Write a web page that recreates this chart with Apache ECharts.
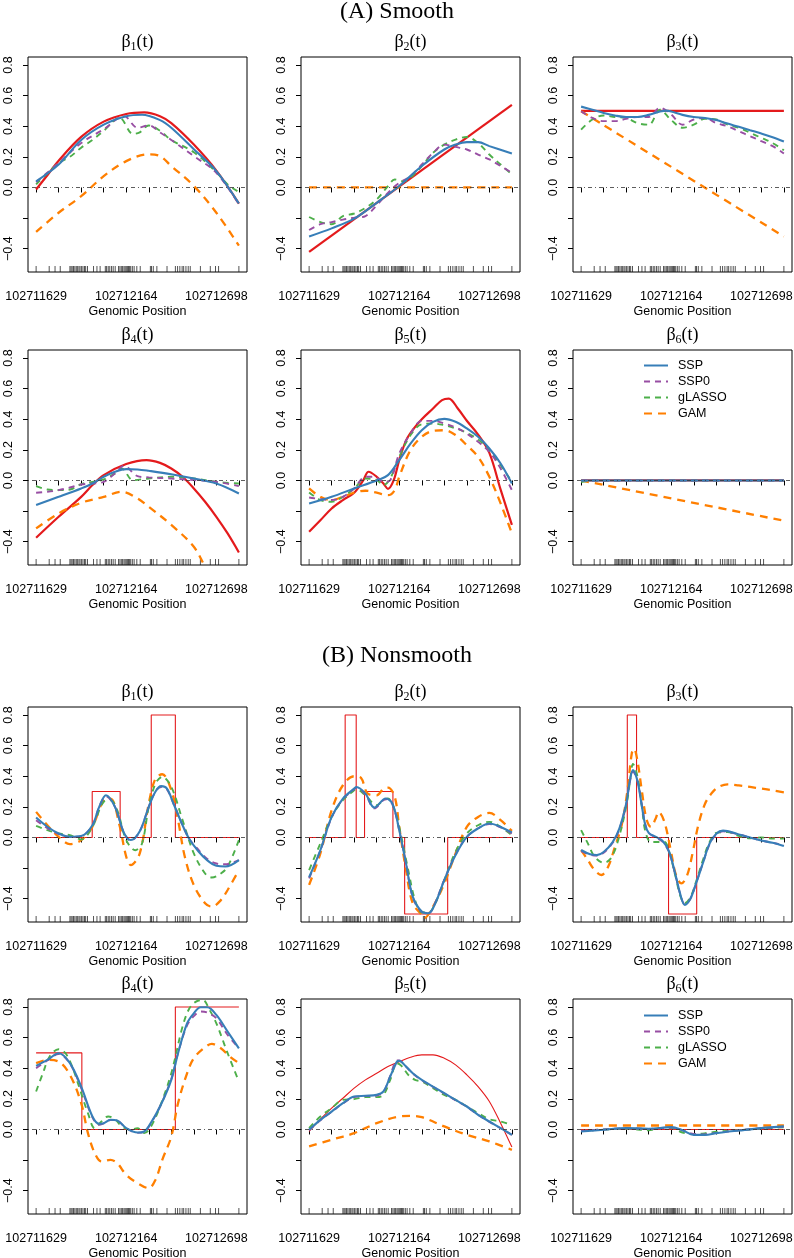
<!DOCTYPE html>
<html>
<head>
<meta charset="utf-8">
<script src="https://cdn.jsdelivr.net/npm/echarts@6/dist/echarts.min.js"></script>
<style>
  html, body { margin: 0; padding: 0; background: #fff; }
  #chart { width: 794px; height: 1258px; }
</style>
</head>
<body>
<div id="chart"></div>
<script>
// genomic positions of the first and last axis tick, 10 ticks evenly spaced
const POS_FIRST = 102711629;
const POS_LAST = 102712832;
const N_TICKS = 10;
const X_LABEL_TICKS = [0, 4, 8];
const Y_TICKS = [-0.4, -0.2, 0, 0.2, 0.4, 0.6, 0.8];
const Y_LABELS = [-0.4, 0, 0.2, 0.4, 0.6, 0.8];
const Y_LIM = [-0.5, 0.8];
const METHODS = ["SSP", "SSP0", "gLASSO", "GAM"];

// CpG sites (rug), in tick units
const rugSites = [0, 0.58, 0.84, 1.07, 1.5, 1.55, 1.6, 1.66, 1.72, 1.78, 1.83, 1.9, 1.95, 2.02, 2.08,
  2.15, 2.2, 2.28, 2.55, 2.7, 2.84, 3.07, 3.13, 3.2, 3.27, 3.35, 3.42, 3.51, 3.66, 3.72, 3.78, 3.84,
  3.9, 3.95, 4.0, 4.05, 4.1, 4.15, 4.2, 4.27, 4.35, 4.47, 4.62, 5.07, 5.12, 5.2, 5.36, 5.81, 6.18,
  6.28, 6.38, 6.48, 6.55, 6.65, 6.75, 6.84, 7.29, 7.73, 7.96, 8.1, 9.0];

// ---- (A) Smooth : [tick unit, beta] ----
const A1_truth = [[0,-0.013],[0.5,0.08],[1,0.175],[2,0.33],[3,0.43],[4,0.48],[4.8,0.49],[5.5,0.465],[6,0.42],[7,0.28],[8,0.11],[9,-0.105]];
const A1_SSP = [[0,0.04],[1,0.15],[2,0.31],[3,0.41],[4,0.465],[4.7,0.475],[5.5,0.44],[6,0.39],[7,0.25],[8,0.107],[9,-0.105]];
const A1_SSP0 = [[0,0.035],[1,0.16],[2,0.29],[3,0.38],[3.9,0.466],[4.5,0.39],[5,0.405],[5.5,0.36],[6,0.31],[7,0.205],[8,0.096],[9,-0.11]];
const A1_gLASSO = [[0,0.02],[1,0.16],[1.5,0.2],[2,0.26],[2.5,0.31],[3,0.37],[3.7,0.455],[4.3,0.35],[4.6,0.36],[5,0.405],[5.5,0.37],[6,0.31],[7,0.23],[8,0.1],[8.5,0.02],[9,-0.03]];
const A1_GAM = [[0,-0.29],[1,-0.165],[2,-0.057],[3,0.074],[4,0.172],[5,0.216],[5.5,0.205],[6,0.14],[7,0.01],[8,-0.165],[9,-0.38]];

const A2_truth = [[0,-0.42],[9,0.54]];
const A2_SSP = [[0,-0.32],[1,-0.267],[2,-0.204],[3,-0.1],[4,0.01],[5,0.14],[6,0.248],[6.5,0.28],[7,0.296],[7.5,0.296],[8,0.27],[9,0.222]];
const A2_SSP0 = [[0,-0.278],[0.5,-0.24],[1,-0.226],[1.5,-0.21],[2,-0.198],[2.5,-0.187],[3,-0.117],[3.5,-0.035],[4,0.03],[4.5,0.074],[5,0.15],[5.5,0.226],[6,0.28],[6.5,0.265],[7,0.248],[7.5,0.215],[8,0.183],[8.5,0.14],[9,0.096]];
const A2_gLASSO = [[0,-0.193],[0.5,-0.226],[1,-0.24],[1.5,-0.187],[2,-0.17],[2.5,-0.133],[3,-0.078],[3.5,0.009],[3.8,0.052],[4.2,0.04],[4.5,0.063],[5,0.14],[5.5,0.226],[6,0.28],[6.5,0.313],[7,0.33],[7.5,0.29],[8,0.215],[8.5,0.15],[9,0.085]];
const A2_GAM = [[0,0],[9,0]];

const A3_truth = [[0,0.5],[9,0.5]];
const A3_SSP = [[0,0.528],[0.5,0.508],[1,0.487],[1.5,0.47],[2,0.46],[2.5,0.46],[3,0.474],[3.5,0.496],[3.8,0.502],[4,0.496],[4.5,0.474],[5,0.46],[5.5,0.454],[6,0.44],[6.5,0.417],[7,0.396],[7.5,0.374],[8,0.352],[8.5,0.328],[9,0.3]];
const A3_SSP0 = [[0,0.498],[0.5,0.454],[1,0.433],[1.5,0.433],[2,0.448],[2.5,0.46],[3,0.46],[3.5,0.52],[4,0.476],[4.5,0.41],[5,0.444],[5.5,0.454],[6,0.42],[6.5,0.4],[7,0.367],[7.5,0.335],[8,0.302],[8.5,0.27],[9,0.222]];
const A3_gLASSO = [[0,0.378],[0.5,0.444],[1,0.47],[1.5,0.46],[2,0.454],[2.5,0.42],[3,0.41],[3.5,0.508],[4,0.44],[4.5,0.39],[5,0.41],[5.5,0.448],[6,0.444],[6.5,0.41],[7,0.39],[7.5,0.357],[8,0.324],[8.5,0.29],[9,0.243]];
const A3_GAM = [[0,0.498],[9,-0.32]];

const A4_truth = [[0,-0.374],[1,-0.237],[2,-0.107],[2.5,-0.03],[3,0.035],[4,0.107],[4.9,0.133],[5.5,0.115],[6,0.078],[6.5,0.024],[7,-0.052],[7.5,-0.139],[8,-0.237],[8.5,-0.346],[9,-0.47]];
const A4_SSP = [[0,-0.16],[1,-0.107],[2,-0.052],[2.5,-0.02],[3,0.024],[3.5,0.057],[4,0.074],[4.5,0.072],[5,0.063],[6,0.041],[7,0.013],[8,-0.02],[9,-0.085]];
const A4_SSP0 = [[0,-0.08],[0.5,-0.074],[1,-0.063],[1.5,-0.046],[2,-0.026],[2.5,-0.02],[3,-0.009],[3.5,0.046],[3.9,0.096],[4.5,0.028],[5,0.02],[6,0.013],[7,0.002],[8,-0.009],[9,-0.037]];
const A4_gLASSO = [[0,-0.037],[0.5,-0.059],[1,-0.063],[1.5,-0.059],[2,-0.024],[2.5,-0.009],[3,0.007],[3.5,0.046],[3.8,0.078],[4.3,0.002],[5,0.013],[6,0.024],[7,0.013],[8,-0.009],[9,-0.02]];
const A4_GAM = [[0,-0.313],[1,-0.215],[2,-0.146],[3,-0.107],[3.8,-0.074],[4.5,-0.117],[5,-0.172],[6,-0.29],[7,-0.433],[7.5,-0.563],[8,-0.69],[8.5,-0.83],[9,-0.98]];

const A5_truth = [[0,-0.335],[0.5,-0.26],[1,-0.183],[1.5,-0.128],[2,-0.08],[2.4,0],[2.64,0.057],[3,0.024],[3.3,-0.02],[3.5,-0.055],[3.75,0],[4,0.133],[4.3,0.26],[4.6,0.33],[5,0.4],[5.5,0.47],[5.9,0.525],[6.2,0.535],[6.6,0.47],[7,0.39],[7.5,0.3],[8,0.18],[8.5,-0.06],[9,-0.29]];
const A5_SSP = [[0,-0.15],[1,-0.107],[2,-0.052],[3,0],[3.5,0.035],[4,0.133],[4.5,0.24],[5,0.328],[5.5,0.383],[6,0.402],[6.5,0.383],[7,0.34],[7.5,0.285],[8,0.209],[8.5,0.111],[9,-0.02]];
const A5_SSP0 = [[0,-0.111],[0.5,-0.122],[1,-0.128],[1.5,-0.107],[2,-0.052],[2.5,0.024],[2.9,0.024],[3.3,-0.009],[3.6,0.002],[4,0.176],[4.5,0.306],[5,0.389],[5.5,0.389],[6,0.372],[6.5,0.346],[7,0.306],[7.5,0.252],[8,0.187],[8.5,0.078],[9,-0.063]];
const A5_gLASSO = [[0,-0.078],[0.5,-0.128],[1,-0.139],[1.5,-0.107],[2,-0.052],[2.5,0.013],[3,0.002],[3.3,-0.03],[3.6,0.013],[4,0.154],[4.5,0.296],[5,0.367],[5.5,0.372],[6,0.361],[6.5,0.34],[7,0.311],[7.5,0.267],[8,0.198],[8.5,0.1],[9,-0.009]];
const A5_GAM = [[0,-0.052],[0.5,-0.107],[1,-0.128],[1.5,-0.107],[2,-0.08],[2.5,-0.067],[3,-0.08],[3.5,-0.096],[3.8,-0.063],[4,0.024],[4.5,0.198],[5,0.285],[5.5,0.324],[6,0.328],[6.5,0.296],[7,0.23],[7.5,0.154],[8,0.024],[8.5,-0.15],[9,-0.346]];

const A6_truth = [[0,0],[9,0]];
const A6_SSP = [[0,0],[9,0]];
const A6_SSP0 = [[0,0],[9,0]];
const A6_gLASSO = [[0,-0.01],[0.5,0],[9,0]];
const A6_GAM = [[0,0],[9,-0.263]];

// ---- (B) Nonsmooth ----
const B1_truth = [[0,0],[2.49,0],[2.49,0.3],[3.73,0.3],[3.73,0],[5.11,0],[5.11,0.8],[6.18,0.8],[6.18,0],[9,0]];
const B1_SSP = [[0,0.13],[0.5,0.07],[1,0.026],[1.5,0.004],[2,0.009],[2.5,0.08],[2.8,0.2],[3.1,0.276],[3.5,0.2],[3.9,0.03],[4.2,-0.017],[4.6,0.04],[5,0.2],[5.3,0.3],[5.55,0.335],[5.8,0.32],[6.1,0.22],[6.5,0.08],[6.8,-0.01],[7.2,-0.09],[7.6,-0.15],[8,-0.185],[8.4,-0.19],[9,-0.148]];
const B1_SSP0 = [[0,0.113],[0.5,0.06],[1,0.022],[1.5,0.004],[2,0.009],[2.5,0.08],[2.8,0.2],[3.1,0.27],[3.5,0.2],[3.9,0.03],[4.2,-0.02],[4.6,0.04],[5,0.2],[5.3,0.3],[5.55,0.33],[5.8,0.315],[6.1,0.22],[6.5,0.08],[6.8,-0.01],[7.2,-0.08],[7.6,-0.14],[8,-0.17],[8.4,-0.175],[9,-0.148]];
const B1_gLASSO = [[0,0.076],[0.5,0.048],[1,0.026],[1.5,0.015],[2,-0.013],[2.5,0.07],[3,0.233],[3.3,0.243],[3.6,0.178],[4,-0.017],[4.4,-0.083],[4.7,-0.039],[5,0.2],[5.3,0.352],[5.6,0.396],[6,0.33],[6.5,0.113],[7,-0.104],[7.5,-0.235],[7.8,-0.261],[8.2,-0.235],[8.5,-0.191],[9,-0.017]];
const B1_GAM = [[0,0.167],[0.5,0.08],[1,0.004],[1.5,-0.043],[2,-0.017],[2.5,0.07],[3,0.243],[3.3,0.254],[3.7,0.08],[4,-0.126],[4.2,-0.18],[4.6,-0.104],[5,0.222],[5.3,0.385],[5.6,0.413],[6,0.309],[6.3,0.113],[6.6,-0.126],[7,-0.311],[7.5,-0.43],[7.8,-0.452],[8.2,-0.409],[8.5,-0.343],[9,-0.213]];

const B2_truth = [[0,0],[1.6,0],[1.6,0.8],[2.09,0.8],[2.09,0],[2.46,0],[2.46,0.3],[3.72,0.3],[3.72,0],[4.24,0],[4.24,-0.5],[6.15,-0.5],[6.15,0],[9,0]];
const B2_SSP = [[0,-0.26],[0.5,-0.082],[1,0.134],[1.5,0.254],[2,0.319],[2.1,0.33],[2.5,0.286],[2.9,0.195],[3.4,0.254],[3.7,0.221],[4,0.048],[4.3,-0.169],[4.6,-0.386],[5,-0.484],[5.3,-0.495],[5.6,-0.43],[6,-0.278],[6.5,-0.115],[7,0.004],[7.5,0.059],[8,0.091],[8.5,0.069],[9,0.033]];
const B2_SSP0 = [[0,-0.267],[0.5,-0.085],[1,0.13],[1.5,0.25],[2,0.315],[2.1,0.325],[2.5,0.28],[2.9,0.19],[3.4,0.25],[3.7,0.215],[4,0.045],[4.3,-0.17],[4.6,-0.39],[5,-0.487],[5.3,-0.495],[5.6,-0.425],[6,-0.275],[6.5,-0.112],[7,0.004],[7.5,0.06],[8,0.088],[8.5,0.066],[9,0.026]];
const B2_gLASSO = [[0,-0.213],[0.5,-0.039],[1,0.134],[1.5,0.243],[2,0.308],[2.1,0.315],[2.5,0.275],[3,0.21],[3.3,0.243],[3.5,0.254],[3.8,0.178],[4,0.069],[4.4,-0.213],[4.7,-0.408],[5,-0.49],[5.3,-0.49],[5.6,-0.43],[6,-0.278],[6.5,-0.093],[7,0.026],[7.5,0.08],[8,0.102],[8.5,0.069],[9,0.015]];
const B2_GAM = [[0,-0.31],[0.5,-0.104],[1,0.178],[1.5,0.341],[2,0.4],[2.3,0.39],[2.6,0.286],[3,0.275],[3.3,0.319],[3.5,0.325],[3.8,0.265],[4,0.069],[4.3,-0.213],[4.6,-0.43],[5,-0.505],[5.1,-0.527],[5.5,-0.451],[6,-0.3],[6.5,-0.104],[7,0.069],[7.5,0.134],[8,0.16],[8.5,0.113],[9,0.043]];

const B3_truth = [[0,0],[2.05,0],[2.05,0.8],[2.46,0.8],[2.46,0],[3.88,0],[3.88,-0.5],[5.13,-0.5],[5.13,0],[9,0]];
const B3_SSP = [[0,-0.082],[0.4,-0.11],[0.7,-0.115],[1,-0.095],[1.4,-0.03],[1.7,0.06],[2,0.22],[2.15,0.36],[2.3,0.44],[2.5,0.37],[2.7,0.2],[2.85,0.08],[3,0.03],[3.3,0.005],[3.6,-0.02],[3.9,-0.09],[4.2,-0.25],[4.4,-0.37],[4.6,-0.44],[4.85,-0.4],[5.1,-0.3],[5.4,-0.17],[5.7,-0.04],[6,0.025],[6.3,0.045],[7,0.02],[7.5,0],[8,-0.02],[8.5,-0.035],[9,-0.056]];
const B3_SSP0 = [[0,-0.09],[0.4,-0.112],[0.7,-0.118],[1,-0.1],[1.4,-0.035],[1.7,0.055],[2,0.215],[2.15,0.35],[2.3,0.43],[2.5,0.37],[2.7,0.21],[2.85,0.085],[3,0.03],[3.3,0.0],[3.6,-0.025],[3.9,-0.095],[4.2,-0.255],[4.4,-0.37],[4.6,-0.435],[4.85,-0.4],[5.1,-0.3],[5.4,-0.17],[5.7,-0.045],[6,0.02],[6.3,0.04],[7,0.02],[7.5,0],[8,-0.02],[8.5,-0.035],[9,-0.05]];
const B3_gLASSO = [[0,0.048],[0.3,-0.039],[0.6,-0.126],[1,-0.165],[1.3,-0.14],[1.6,-0.04],[2,0.2],[2.2,0.4],[2.3,0.48],[2.5,0.4],[2.7,0.2],[2.85,0.04],[3.1,-0.03],[3.4,-0.03],[3.7,-0.03],[3.9,-0.09],[4.2,-0.26],[4.4,-0.38],[4.6,-0.43],[4.85,-0.39],[5.1,-0.29],[5.4,-0.15],[5.7,-0.03],[6,0.03],[6.5,0.035],[7,0.01],[7.5,-0.005],[8,0],[8.5,-0.007],[9,-0.007]];
const B3_GAM = [[0,-0.082],[0.3,-0.148],[0.6,-0.213],[0.9,-0.245],[1.2,-0.191],[1.5,-0.061],[1.8,0.08],[2.05,0.3],[2.25,0.55],[2.35,0.58],[2.5,0.5],[2.7,0.3],[2.9,0.12],[3.1,0.069],[3.3,0.12],[3.44,0.167],[3.7,0.1],[4,-0.1],[4.2,-0.24],[4.45,-0.3],[4.7,-0.25],[4.95,-0.1],[5.2,0.08],[5.5,0.22],[5.8,0.29],[6.1,0.33],[6.5,0.347],[7,0.34],[7.5,0.33],[8,0.319],[8.5,0.308],[9,0.295]];

const B4_truth = [[0,0.5],[2.03,0.5],[2.03,0],[6.18,0],[6.18,0.8],[9,0.8]];
const B4_SSP = [[0,0.415],[0.5,0.454],[1,0.498],[1.5,0.433],[2,0.28],[2.5,0.085],[2.8,0.037],[3,0.041],[3.3,0.063],[3.6,0.059],[4,0.009],[4.5,-0.02],[4.8,-0.013],[5,0.02],[5.5,0.15],[6,0.324],[6.3,0.498],[6.7,0.693],[7,0.759],[7.3,0.798],[7.6,0.798],[8,0.748],[8.5,0.639],[9,0.53]];
const B4_SSP0 = [[0,0.4],[0.5,0.45],[1,0.493],[1.5,0.43],[2,0.27],[2.5,0.08],[2.8,0.03],[3,0.04],[3.3,0.062],[3.6,0.058],[4,0.008],[4.5,-0.022],[4.8,-0.015],[5,0.018],[5.5,0.15],[6,0.33],[6.3,0.5],[6.7,0.68],[7,0.74],[7.3,0.77],[7.6,0.763],[8,0.726],[8.5,0.617],[9,0.53]];
const B4_gLASSO = [[0,0.248],[0.3,0.367],[0.6,0.476],[1,0.524],[1.3,0.498],[1.6,0.411],[2,0.237],[2.3,0.107],[2.6,0.009],[2.9,0.052],[3.2,0.085],[3.5,0.067],[3.8,0.02],[4.2,-0.002],[4.5,0.009],[4.8,-0.024],[5.1,0.02],[5.5,0.15],[6,0.367],[6.5,0.672],[6.8,0.79],[7.1,0.835],[7.4,0.846],[7.7,0.78],[8,0.693],[8.5,0.498],[9,0.313]];
const B4_GAM = [[0,0.433],[0.5,0.454],[1,0.443],[1.5,0.357],[2,0.172],[2.3,-0.024],[2.6,-0.154],[2.9,-0.209],[3.3,-0.198],[3.6,-0.22],[4,-0.296],[4.5,-0.35],[5,-0.383],[5.3,-0.328],[5.6,-0.198],[6,-0.046],[6.3,0.172],[6.7,0.367],[7,0.465],[7.5,0.537],[7.8,0.559],[8.2,0.53],[8.6,0.476],[9,0.433]];

const B5_truth = [[0,-0.013],[0.5,0.067],[1,0.139],[1.5,0.204],[2,0.27],[2.5,0.324],[3,0.367],[3.5,0.411],[4,0.443],[4.5,0.472],[5,0.487],[5.5,0.487],[6,0.465],[6.5,0.422],[7,0.357],[7.5,0.28],[8,0.183],[8.5,0.041],[9,-0.115]];
const B5_SSP = [[0,-0.002],[0.5,0.063],[1,0.117],[1.5,0.172],[2,0.215],[2.5,0.22],[3,0.226],[3.3,0.248],[3.6,0.346],[3.9,0.443],[4,0.448],[4.3,0.411],[4.6,0.367],[5,0.324],[5.5,0.28],[6,0.237],[6.5,0.193],[7,0.15],[7.5,0.096],[8,0.052],[8.5,0.009],[9,-0.035]];
const B5_SSP0 = [[0,-0.005],[0.5,0.06],[1,0.115],[1.5,0.17],[2,0.212],[2.5,0.218],[3,0.222],[3.3,0.245],[3.6,0.35],[3.9,0.45],[4,0.45],[4.3,0.41],[4.6,0.365],[5,0.322],[5.5,0.278],[6,0.235],[6.5,0.19],[7,0.148],[7.5,0.095],[8,0.05],[8.5,0.008],[9,-0.035]];
const B5_gLASSO = [[0,0.009],[0.5,0.085],[1,0.139],[1.5,0.193],[2,0.198],[2.5,0.211],[3,0.211],[3.3,0.226],[3.6,0.324],[3.9,0.433],[4.1,0.415],[4.4,0.357],[4.7,0.324],[5,0.313],[5.5,0.27],[6,0.226],[6.5,0.193],[7,0.15],[7.5,0.107],[8,0.067],[8.5,0.052],[9,0.03]];
const B5_GAM = [[0,-0.111],[1,-0.067],[2,-0.024],[3,0.041],[4,0.085],[4.5,0.089],[5,0.08],[6,0.02],[7,-0.035],[8,-0.078],[9,-0.133]];

const B6_truth = [[0,0],[9,0]];
const B6_SSP = [[0,-0.013],[1,-0.002],[2,0.009],[3,0.005],[4,0.015],[4.5,-0.005],[5,-0.035],[5.5,-0.035],[6,-0.024],[7,-0.007],[8,0.009],[9,0.02]];
const B6_SSP0 = [[0,-0.01],[1,0],[2,0.008],[3,0.004],[4,0.012],[4.5,-0.005],[5,-0.03],[5.5,-0.032],[6,-0.022],[7,-0.006],[8,0.008],[9,0.018]];
const B6_gLASSO = [[0,-0.01],[1,0],[2,0.005],[3,-0.005],[3.5,0.01],[4,0.01],[4.5,-0.02],[5,-0.03],[5.5,-0.025],[6,-0.015],[7,-0.005],[8,0.005],[9,0.015]];
const B6_GAM = [[0,0.026],[9,0.026]];

const panels = [
  { k: 1, truth: A1_truth, SSP: A1_SSP, SSP0: A1_SSP0, gLASSO: A1_gLASSO, GAM: A1_GAM },
  { k: 2, truth: A2_truth, SSP: A2_SSP, SSP0: A2_SSP0, gLASSO: A2_gLASSO, GAM: A2_GAM },
  { k: 3, truth: A3_truth, SSP: A3_SSP, SSP0: A3_SSP0, gLASSO: A3_gLASSO, GAM: A3_GAM },
  { k: 4, truth: A4_truth, SSP: A4_SSP, SSP0: A4_SSP0, gLASSO: A4_gLASSO, GAM: A4_GAM },
  { k: 5, truth: A5_truth, SSP: A5_SSP, SSP0: A5_SSP0, gLASSO: A5_gLASSO, GAM: A5_GAM },
  { k: 6, truth: A6_truth, SSP: A6_SSP, SSP0: A6_SSP0, gLASSO: A6_gLASSO, GAM: A6_GAM },
  { k: 1, truth: B1_truth, SSP: B1_SSP, SSP0: B1_SSP0, gLASSO: B1_gLASSO, GAM: B1_GAM },
  { k: 2, truth: B2_truth, SSP: B2_SSP, SSP0: B2_SSP0, gLASSO: B2_gLASSO, GAM: B2_GAM },
  { k: 3, truth: B3_truth, SSP: B3_SSP, SSP0: B3_SSP0, gLASSO: B3_gLASSO, GAM: B3_GAM },
  { k: 4, truth: B4_truth, SSP: B4_SSP, SSP0: B4_SSP0, gLASSO: B4_gLASSO, GAM: B4_GAM },
  { k: 5, truth: B5_truth, SSP: B5_SSP, SSP0: B5_SSP0, gLASSO: B5_gLASSO, GAM: B5_GAM },
  { k: 6, truth: B6_truth, SSP: B6_SSP, SSP0: B6_SSP0, gLASSO: B6_gLASSO, GAM: B6_GAM }
];

// ---- layout / style ----
const SANS = "Liberation Sans";
const SERIF = "Liberation Serif";
const COL_LEFT = [28, 301, 573];
const ROW_TOP = [57, 350, 707, 999];
const BOX_W = 219, BOX_H = 215;

const STEP = (POS_LAST - POS_FIRST) / (N_TICKS - 1);
const pos = t => POS_FIRST + t * STEP;
const X_MIN = POS_FIRST - 0.04 * (POS_LAST - POS_FIRST);
const X_MAX = POS_LAST + 0.04 * (POS_LAST - POS_FIRST);
const Y_MIN = Y_LIM[0] - 0.04 * (Y_LIM[1] - Y_LIM[0]);
const Y_MAX = Y_LIM[1] + 0.04 * (Y_LIM[1] - Y_LIM[0]);
const xTickVals = Array.from({ length: N_TICKS }, (_, i) => pos(i));
const xLabelVals = X_LABEL_TICKS.map(pos);

const lineStyles = {
  truth: { color: "#E41A1C", width: 2.2, type: "solid" },
  GAM: { color: "#FF7F00", width: 2.3, type: [8, 6] },
  gLASSO: { color: "#4DAF4A", width: 1.9, type: [6, 5] },
  SSP0: { color: "#984EA3", width: 1.9, type: [6, 5] },
  SSP: { color: "#377EB8", width: 2.1, type: "solid" }
};
const drawOrder = ["truth", "GAM", "gLASSO", "SSP0", "SSP"];

const headStyle = { fontFamily: SERIF, fontSize: 24, fontWeight: "normal", color: "#000" };
const grids = [], xAxes = [], yAxes = [], series = [];
const titles = [
  { text: "(A) Smooth", left: 397, top: 0, textAlign: "center", padding: 0, textStyle: headStyle },
  { text: "(B) Nonsmooth", left: 397, top: 644, textAlign: "center", padding: 0, textStyle: headStyle }
];

panels.forEach((p, i) => {
  const left = COL_LEFT[i % 3];
  const top = ROW_TOP[Math.floor(i / 3)];
  const nonsmooth = i >= 6;
  grids.push({
    left: left, top: top, width: BOX_W, height: BOX_H,
    show: true, borderColor: "#000", borderWidth: 1, backgroundColor: "transparent",
    containLabel: false, outerBoundsMode: "none"
  });
  xAxes.push({
    gridIndex: i, type: "value", min: X_MIN, max: X_MAX,
    axisLine: { show: false }, splitLine: { show: false },
    axisTick: { show: true, inside: false, length: 5, customValues: xTickVals, lineStyle: { color: "#000", width: 1 } },
    axisLabel: { customValues: xLabelVals, margin: 18, formatter: v => String(Math.round(v)),
      fontFamily: SANS, fontSize: 12.5, color: "#000" },
    name: "Genomic Position", nameLocation: "middle", nameGap: 33,
    nameTextStyle: { fontFamily: SANS, fontSize: 12.5, color: "#000" }
  });
  yAxes.push({
    gridIndex: i, type: "value", min: Y_MIN, max: Y_MAX,
    axisLine: { show: false }, splitLine: { show: false },
    axisTick: { show: true, inside: false, length: 5, customValues: Y_TICKS, lineStyle: { color: "#000", width: 1 } },
    axisLabel: { customValues: Y_LABELS, rotate: 90, margin: 13,
      formatter: v => (v < 0 ? "\u2212" : "") + Math.abs(v).toFixed(1),
      fontFamily: SANS, fontSize: 12.5, color: "#000" }
  });
  titles.push({
    text: "{b|\u03b2}{s|" + p.k + "}{b|(t)}",
    left: left + BOX_W / 2, top: top - 25, textAlign: "center", padding: 0,
    textStyle: {
      fontWeight: "normal",
      rich: {
        b: { fontFamily: SERIF, fontSize: 18, fontWeight: "normal", lineHeight: 21, color: "#000" },
        s: { fontFamily: SERIF, fontSize: 12, fontWeight: "normal", lineHeight: 12, verticalAlign: "bottom", color: "#000" }
      }
    }
  });
  drawOrder.forEach(key => {
    const st = lineStyles[key];
    const s = {
      name: key,
      type: "line", xAxisIndex: i, yAxisIndex: i,
      data: p[key].map(d => [pos(d[0]), d[1]]),
      symbol: "none", showSymbol: false, clip: true,
      smooth: key === "truth" && nonsmooth && p.k !== 5 ? false : 0.35,
      lineStyle: { color: st.color, width: key === "truth" && nonsmooth ? 1.1 : st.width, type: st.type },
      itemStyle: { color: st.color },
      silent: true, z: 3
    };
    if (key === "truth") {
      s.z = 2;
      s.markLine = {
        silent: true, symbol: "none", label: { show: false },
        lineStyle: { color: "#333", width: 0.8, type: [1, 3, 4, 3] },
        data: [{ yAxis: 0 }]
      };
    }
    series.push(s);
  });
  series.push({
    name: "rug", type: "scatter", xAxisIndex: i, yAxisIndex: i,
    data: rugSites.map(t => [pos(t), Y_MIN]),
    symbol: "rect", symbolSize: [0.9, 6], symbolOffset: [0, -3],
    itemStyle: { color: "#111" }, clip: false, silent: true, z: 1
  });
});

const legendBase = {
  data: METHODS, orient: "vertical", left: 643, padding: 0,
  itemWidth: 24, itemHeight: 12, itemGap: 3, selectedMode: false,
  itemStyle: { color: "transparent", borderWidth: 0, opacity: 0 },
  textStyle: { fontFamily: SANS, fontSize: 12.5, color: "#000", padding: [0, 0, 0, 5] }
};

const chart = echarts.init(document.getElementById("chart"), null, { renderer: "canvas" });
chart.setOption({
  animation: false,
  backgroundColor: "#fff",
  title: titles,
  legend: [
    Object.assign({}, legendBase, { top: 359 }),
    Object.assign({}, legendBase, { top: 1009 })
  ],
  grid: grids,
  xAxis: xAxes,
  yAxis: yAxes,
  series: series
});
</script>
</body>
</html>
